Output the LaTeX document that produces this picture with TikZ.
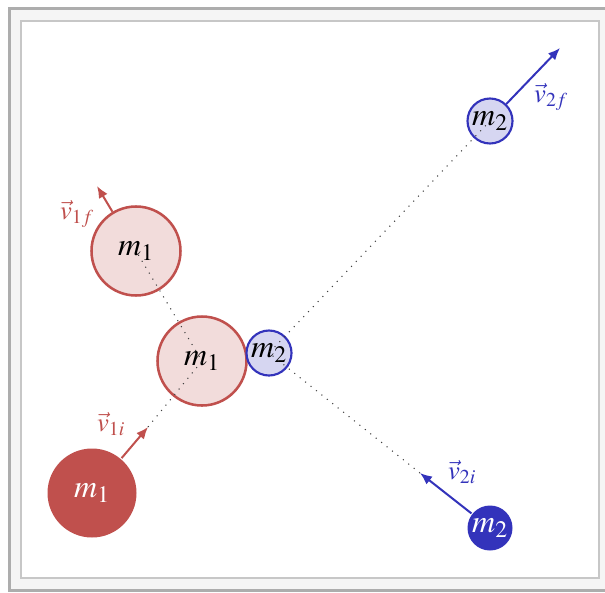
\documentclass[tikz,border=0pt]{standalone}
\usepackage{mathptmx}
\usetikzlibrary{arrows.meta}
\definecolor{massred}{RGB}{192,80,77}
\definecolor{massblue}{RGB}{51,51,187}
\tikzset{
  heavy/.style={circle, minimum size=66.75pt, inner sep=0pt, line width=1.9pt, font=\fontsize{24}{26}\selectfont},
  light/.style={circle, minimum size=33.75pt, inner sep=0pt, line width=1.6pt, font=\fontsize{24}{26}\selectfont},
  vel/.style={-{Latex[length=9pt,width=7.5pt]}, line width=1.5pt},
  track/.style={line width=0.8pt, dash pattern=on 0.8pt off 4.4pt, black!75},
  vlabel/.style={font=\fontsize{20}{22}\selectfont}
}
\begin{document}
\begin{tikzpicture}[x=0.75pt, y=-0.75pt]
\useasboundingbox (0,0) rectangle (605,592);
% frame
\draw[fill=black!4, draw=black!32, line width=2.25pt] (9.5,8.5) rectangle (640,590.5);
\draw[fill=white, draw=black!22, line width=1.5pt] (21,21.5) rectangle (599,578);
% masses
\node[heavy, fill=massred, text=white] (m1i) at (92,493) {$m_1$};
\node[heavy, fill=massred!20, draw=massred] (m1c) at (202,361) {$m_1$};
\node[heavy, fill=massred!20, draw=massred] (m1f) at (136,251) {$m_1$};
\node[light, fill=massblue, text=white] (m2i) at (490,528) {$m_2$};
\node[light, fill=massblue!20, draw=massblue] (m2c) at (269,353) {$m_2$};
\node[light, fill=massblue!20, draw=massblue] (m2f) at (490,121) {$m_2$};
% arrow ends
\coordinate (t1i) at (148,427);
\coordinate (t1f) at (97,186);
\coordinate (t2i) at (420,473);
\coordinate (t2f) at (560,48);
% velocities
\draw[vel, massred] (m1i) -- (t1i);
\draw[vel, massred] (m1f) -- (t1f);
\draw[vel, massblue] (m2i) -- (t2i);
\draw[vel, massblue] (m2f) -- (t2f);
\node[vlabel, text=massred] (v1i) at (111,424) {$\vec{v}_{1i}$};
\node[vlabel, text=massred] (v1f) at (77,214) {$\vec{v}_{1f}$};
\node[vlabel, text=massblue] (v2i) at (462,472) {$\vec{v}_{2i}$};
\node[vlabel, text=massblue] (v2f) at (551,97) {$\vec{v}_{2f}$};
% paths
\draw[track] (t1i) -- (m1c.center) -- (m1f.center);
\draw[track] (t2i) -- (m2c.center) -- (m2f.center);
\end{tikzpicture}
\end{document}
